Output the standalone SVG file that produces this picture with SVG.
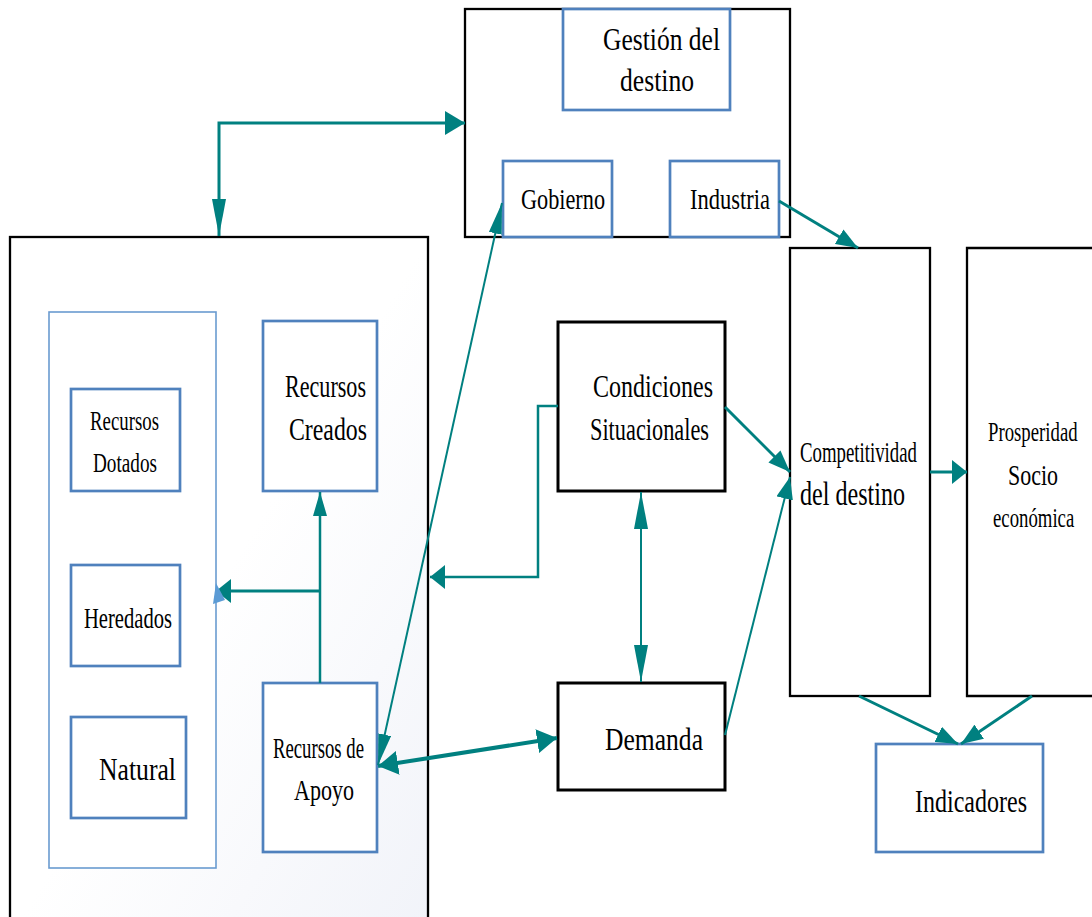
<svg xmlns="http://www.w3.org/2000/svg" width="1092" height="917" viewBox="0 0 1092 917">
  <defs>
    <linearGradient id="panelFill" x1="0" y1="0" x2="1" y2="1">
      <stop offset="0.5" stop-color="#ffffff"/>
      <stop offset="1" stop-color="#f1f3f9"/>
    </linearGradient>
    <!-- arrowheads of different proportions, tip at the path end -->
    <marker id="ahWide" viewBox="0 0 20 24" refX="20" refY="12" markerWidth="20" markerHeight="24" markerUnits="userSpaceOnUse" orient="auto-start-reverse">
      <path d="M0,0 L20,12 L0,24 z" fill="#008080"/>
    </marker>
    <marker id="ahShort" viewBox="0 0 15 24" refX="15" refY="12" markerWidth="15" markerHeight="24" markerUnits="userSpaceOnUse" orient="auto-start-reverse">
      <path d="M0,0 L15,12 L0,24 z" fill="#008080"/>
    </marker>
    <marker id="ahLong" viewBox="0 0 37 14" refX="37" refY="7" markerWidth="37" markerHeight="14" markerUnits="userSpaceOnUse" orient="auto-start-reverse">
      <path d="M0,0 L37,7 L0,14 z" fill="#008080"/>
    </marker>
    <marker id="ahSlim" viewBox="0 0 31 13" refX="31" refY="6.5" markerWidth="31" markerHeight="13" markerUnits="userSpaceOnUse" orient="auto-start-reverse">
      <path d="M0,0 L31,6.5 L0,13 z" fill="#008080"/>
    </marker>
    <marker id="ahMid" viewBox="0 0 22 17" refX="22" refY="8.5" markerWidth="22" markerHeight="17" markerUnits="userSpaceOnUse" orient="auto-start-reverse">
      <path d="M0,0 L22,8.5 L0,17 z" fill="#008080"/>
    </marker>
    <marker id="ahUp" viewBox="0 0 24 14" refX="24" refY="7" markerWidth="24" markerHeight="14" markerUnits="userSpaceOnUse" orient="auto-start-reverse">
      <path d="M0,0 L24,7 L0,14 z" fill="#008080"/>
    </marker>
  </defs>
  <style>
    .frame { fill: #ffffff; stroke: #000000; stroke-width: 2.3; }
    .frame-bold { fill: #ffffff; stroke: #000000; stroke-width: 3; }
    .blue { fill: #ffffff; stroke: #4f81bd; stroke-width: 2.7; }
    .blue-thin { fill: #ffffff; stroke: #6a9bd0; stroke-width: 1.6; }
    text { font-family: "Liberation Serif", "DejaVu Serif", "Times New Roman", serif; fill: #000000; }
    .conn { fill: none; stroke: #008080; stroke-linejoin: miter; }
  </style>

  <rect width="1092" height="917" fill="#ffffff"/>

  <!-- destination management block -->
  <g id="gestion-block">
    <rect class="frame" x="465" y="9" width="325" height="228"/>
  </g>
  <g id="gestion-destino">
    <rect class="blue" x="563" y="9" width="167" height="101"/>
    <text x="603" y="50" font-size="31" textLength="117" lengthAdjust="spacingAndGlyphs">Gestión del</text>
    <text x="620" y="91" font-size="31" textLength="74" lengthAdjust="spacingAndGlyphs">destino</text>
  </g>
  <g id="gobierno">
    <rect class="blue" x="503" y="161" width="109" height="76"/>
    <text x="521" y="209" font-size="29" textLength="84" lengthAdjust="spacingAndGlyphs">Gobierno</text>
  </g>
  <g id="industria">
    <rect class="blue" x="670" y="161" width="109" height="76"/>
    <text x="690" y="209" font-size="29" textLength="80" lengthAdjust="spacingAndGlyphs">Industria</text>
  </g>

  <!-- resources panel -->
  <g id="recursos-panel">
    <rect x="10" y="237" width="418" height="700" fill="url(#panelFill)" stroke="#000000" stroke-width="2.3"/>
  </g>
  <g id="recursos-base">
    <rect class="blue-thin" x="49" y="312" width="167" height="556"/>
  </g>
  <g id="recursos-dotados">
    <rect class="blue" x="71" y="389" width="109" height="102"/>
    <text x="90" y="430" font-size="28" textLength="69" lengthAdjust="spacingAndGlyphs">Recursos</text>
    <text x="93" y="472" font-size="28" textLength="64" lengthAdjust="spacingAndGlyphs">Dotados</text>
  </g>
  <g id="heredados">
    <rect class="blue" x="71" y="565" width="109" height="101"/>
    <text x="84" y="628" font-size="30" textLength="88" lengthAdjust="spacingAndGlyphs">Heredados</text>
  </g>
  <g id="natural">
    <rect class="blue" x="71" y="717" width="115" height="101"/>
    <text x="99" y="780" font-size="32" textLength="77" lengthAdjust="spacingAndGlyphs">Natural</text>
  </g>
  <g id="recursos-creados">
    <rect class="blue" x="263" y="321" width="114" height="170"/>
    <text x="285" y="397" font-size="31" textLength="81" lengthAdjust="spacingAndGlyphs">Recursos</text>
    <text x="289" y="440" font-size="31" textLength="78" lengthAdjust="spacingAndGlyphs">Creados</text>
  </g>
  <g id="recursos-apoyo">
    <rect class="blue" x="263" y="683" width="114" height="169"/>
    <text x="273" y="758" font-size="30" textLength="91" lengthAdjust="spacingAndGlyphs">Recursos de</text>
    <text x="294" y="800" font-size="30" textLength="60" lengthAdjust="spacingAndGlyphs">Apoyo</text>
  </g>

  <!-- central and right blocks -->
  <g id="condiciones">
    <rect class="frame-bold" x="558" y="322" width="167" height="169"/>
    <text x="593" y="397" font-size="31" textLength="120" lengthAdjust="spacingAndGlyphs">Condiciones</text>
    <text x="590" y="440" font-size="31" textLength="119" lengthAdjust="spacingAndGlyphs">Situacionales</text>
  </g>
  <g id="demanda">
    <rect class="frame-bold" x="558" y="683" width="167" height="107"/>
    <text x="605" y="750" font-size="32" textLength="98" lengthAdjust="spacingAndGlyphs">Demanda</text>
  </g>
  <g id="competitividad">
    <rect class="frame" x="790" y="248" width="140" height="448"/>
    <text x="800" y="462" font-size="29" textLength="117" lengthAdjust="spacingAndGlyphs">Competitividad</text>
    <text x="800" y="505" font-size="33" textLength="105" lengthAdjust="spacingAndGlyphs">del destino</text>
  </g>
  <g id="prosperidad">
    <rect x="967" y="248" width="125" height="448" fill="#ffffff"/>
    <!-- box continues past the right border, so only three sides show -->
    <path d="M1092,248 H967 V696 H1092" fill="none" stroke="#000000" stroke-width="2.3"/>
    <text transform="translate(988,441) scale(0.67,1)" font-size="28">Prosperidad</text>
    <text x="1008" y="485" font-size="30" textLength="50" lengthAdjust="spacingAndGlyphs">Socio</text>
    <text transform="translate(993,527) scale(0.67,1)" font-size="28">económica</text>
  </g>
  <g id="indicadores">
    <rect class="blue" x="876" y="744" width="167" height="108"/>
    <text x="915" y="812" font-size="32" textLength="112" lengthAdjust="spacingAndGlyphs">Indicadores</text>
  </g>

  <!-- connectors -->
  <g id="connectors">
    <path class="conn" stroke-width="3" d="M219,236 V123 H465" marker-start="url(#ahLong)" marker-end="url(#ahWide)"/>
    <path class="conn" stroke-width="2" d="M502,203 L378,765" marker-start="url(#ahSlim)" marker-end="url(#ahSlim)"/>
    <path class="conn" stroke-width="3" d="M779,201 L858,248" marker-end="url(#ahMid)"/>
    <path class="conn" stroke-width="2.5" d="M558,406 H538 V577 H430" marker-end="url(#ahShort)"/>
    <path class="conn" stroke-width="2" d="M641,492 V682" marker-start="url(#ahLong)" marker-end="url(#ahLong)"/>
    <path class="conn" stroke-width="3" d="M725,407 L790,472" marker-end="url(#ahMid)"/>
    <path class="conn" stroke-width="2" d="M725,735 L790,477" marker-end="url(#ahMid)"/>
    <path class="conn" stroke-width="4" d="M378,766 L557,738" marker-start="url(#ahWide)" marker-end="url(#ahWide)"/>
    <path class="conn" stroke-width="2.5" d="M320,683 V492" marker-end="url(#ahUp)"/>
    <path class="conn" stroke-width="3" d="M320,591 H216" marker-end="url(#ahShort)"/>
    <polygon points="216,583 225,600 213,604" fill="#5b9bd5"/>
    <path class="conn" stroke-width="3" d="M930,472 H967" marker-end="url(#ahShort)"/>
    <path class="conn" stroke-width="3" d="M859,696 L958,744" marker-end="url(#ahMid)"/>
    <path class="conn" stroke-width="3" d="M1032,696 L961,744" marker-end="url(#ahMid)"/>
  </g>
</svg>
